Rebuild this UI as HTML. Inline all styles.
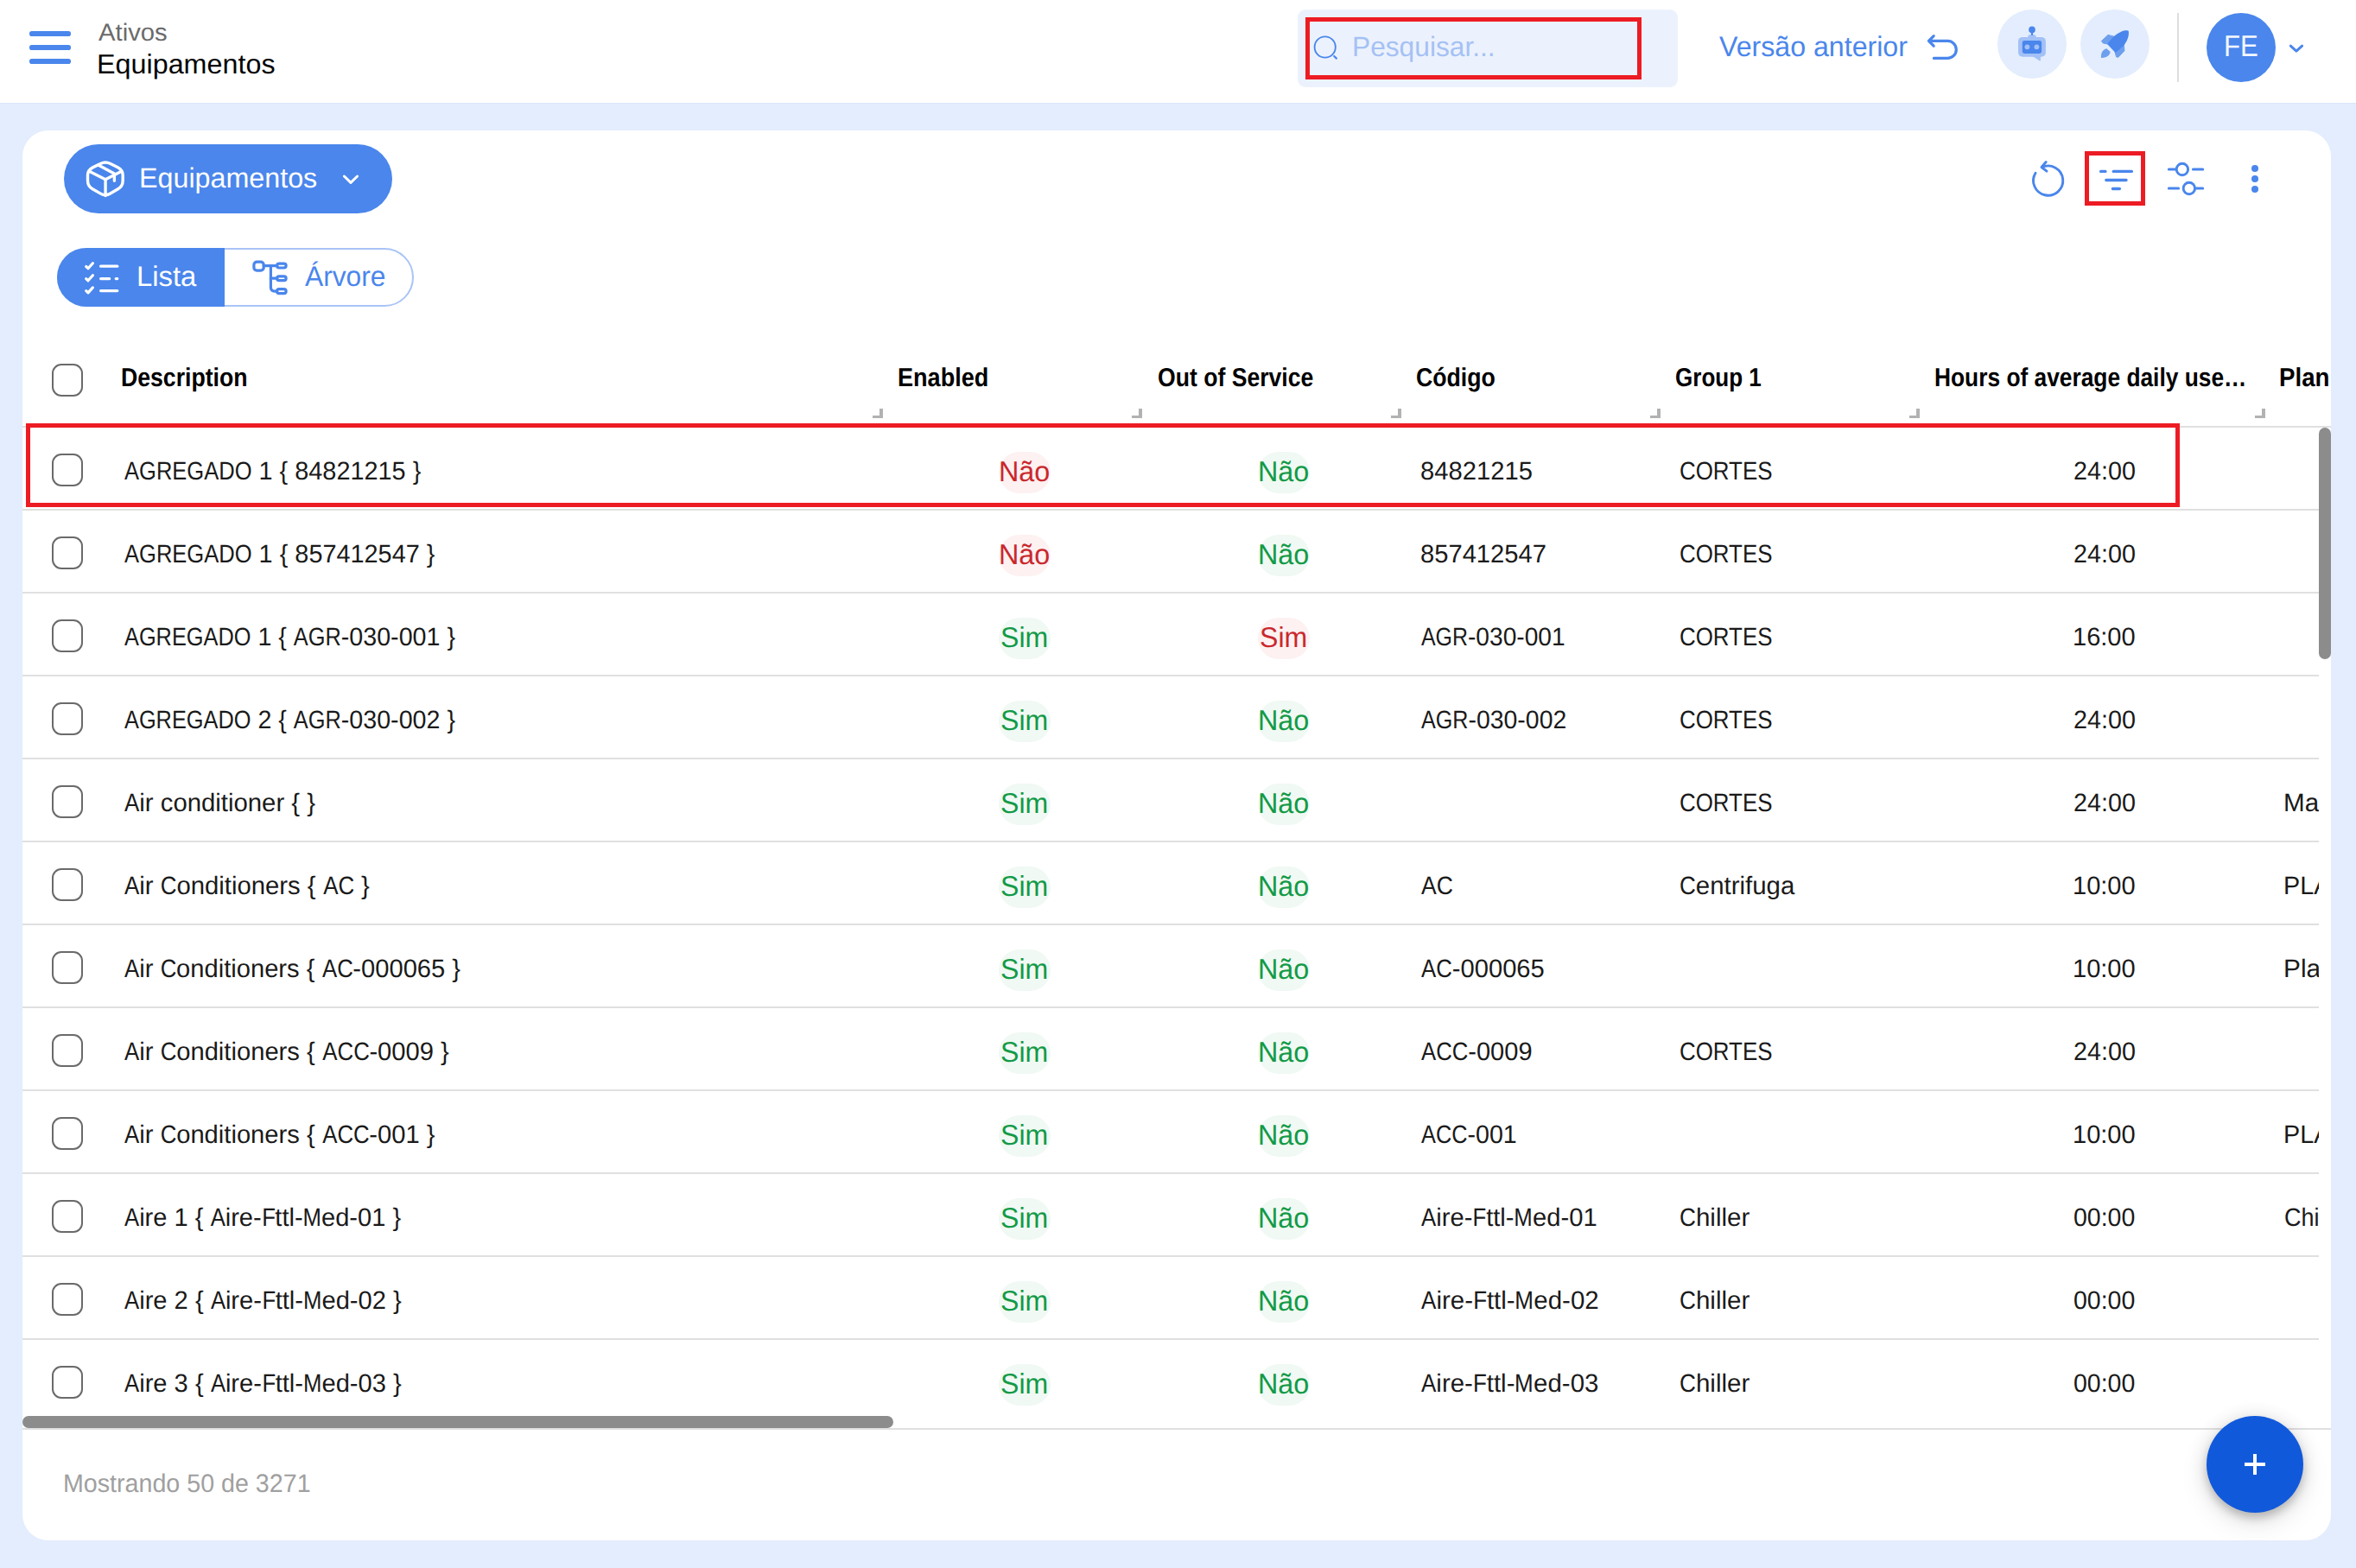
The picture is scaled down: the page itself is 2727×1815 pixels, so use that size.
<!DOCTYPE html>
<html lang="pt">
<head>
<meta charset="utf-8">
<title>Ativos - Equipamentos</title>
<style>
html,body{margin:0;padding:0}
body{width:2727px;height:1815px;overflow:hidden;position:relative;background:#e3edfd;font-family:"Liberation Sans", sans-serif;text-rendering:geometricPrecision}
.abs{position:absolute}
.t{position:absolute;white-space:pre;line-height:1;transform-origin:0 0}
.hdr{position:absolute;left:0;top:0;width:2727px;height:119px;background:#fff;box-shadow:0 1px 1px rgba(40,60,120,.03)}
.card{position:absolute;left:26px;top:151px;width:2672px;height:1632px;background:#fff;border-radius:30px}
.ln{position:absolute;height:2px;background:#e0e0e0}
.cb{position:absolute;left:60px;width:32px;height:33.5px;border:2px solid #6a6a6a;border-radius:11px;background:#fff}
.bd{position:absolute;width:60px;height:48px;border-radius:24px}
.u{display:inline-block;transform-origin:0 50%}
.rz{position:absolute;width:8px;height:8px;border-right:4px solid #b2b2b2;border-bottom:3.5px solid #b2b2b2}
.red{position:absolute;border:5px solid #ed1c24;box-sizing:border-box}
svg{position:absolute;overflow:visible}

</style>
</head>
<body>
<header>
<div class="hdr"></div>
<div class="abs" style="left:34px;top:36.45px;width:48.2px;height:5.6px;border-radius:2.8px;background:#4a86ec"></div>
<div class="abs" style="left:34px;top:52.4px;width:48.2px;height:5.6px;border-radius:2.8px;background:#4a86ec"></div>
<div class="abs" style="left:34px;top:68.35px;width:48.2px;height:5.6px;border-radius:2.8px;background:#4a86ec"></div>
<div class="abs" style="left:1502px;top:11px;width:440px;height:90px;border-radius:9px;background:#ecf2fd"></div>
<svg style="left:1516px;top:36px" width="40" height="40" viewBox="0 0 40 40"><circle cx="17.7" cy="18.5" r="12.1" fill="none" stroke="#4a86ec" stroke-width="1.9"/><path d="M28.2 29 L30.9 31.6" stroke="#4a86ec" stroke-width="2.2" stroke-linecap="round"/></svg>
<div class="red" style="left:1511px;top:20px;width:389px;height:72px"></div>
<svg style="left:2228px;top:36px" width="44" height="40" viewBox="0 0 44 40"><path d="M10.2 5.6 L4.4 11.4 L10.2 17.2 M4.6 11.4 H26.3 A10 10 0 0 1 26.3 31.4 H10.4" fill="none" stroke="#4a86ec" stroke-width="3.2" stroke-linecap="round" stroke-linejoin="round"/></svg>
<div class="abs" style="left:2312px;top:11px;width:80px;height:80px;border-radius:50%;background:#e3edfd"></div>
<svg style="left:2332px;top:28px" width="40" height="46" viewBox="0 0 40 46"><rect x="4" y="14.9" width="31.9" height="22.9" rx="5" fill="#a3c1f6"/><path d="M20.5 37 L28.6 42.2 Q29.9 42.9 29.9 41.4 L29.9 37 Z" fill="#a3c1f6"/><rect x="15.4" y="12.2" width="9.2" height="5" rx="1.8" fill="#a3c1f6"/><rect x="18.9" y="6.4" width="2.2" height="6.4" fill="#4a86ec"/><circle cx="20" cy="6.4" r="3.8" fill="#4a86ec"/><rect x="8.8" y="19" width="22.3" height="15" rx="2.4" fill="#4a86ec"/><circle cx="14.4" cy="26.3" r="2.9" fill="#a3c1f6"/><circle cx="25.4" cy="26.3" r="2.9" fill="#a3c1f6"/></svg>
<div class="abs" style="left:2408px;top:11px;width:80px;height:80px;border-radius:50%;background:#e3edfd"></div>
<svg style="left:2428px;top:31px" width="40" height="40" viewBox="0 0 40 40"><path d="M12 9.4 L4.4 16.5 L6.3 19 L12 20 L19.6 11.4 Z" fill="#6e9fee" stroke="#6e9fee" stroke-width="1" stroke-linejoin="round"/><path d="M30.4 21.5 L30.9 27.8 L23.8 35.3 L21.6 34.9 L20 29 Z" fill="#6e9fee" stroke="#6e9fee" stroke-width="1" stroke-linejoin="round"/><path d="M35.4 4.6 C33 4 30 4.5 27.2 5.7 C25 6.6 23.4 7.6 21.8 8.8 C19.8 10.3 18 11.8 16.5 13.4 C14.5 15.5 12.6 17.7 11.1 19.9 L20.3 29.8 C22 28.9 23.5 27.7 24.9 26.4 C27 24.5 28.8 23 30.2 21.8 C30.8 21 31.3 20.3 31.7 19.5 C33 17.6 34 15.5 34.8 13.4 C35.5 11.6 35.9 9.8 35.9 8 C36 6.6 35.9 5.4 35.4 4.6 Z" fill="#4a86ec"/><path d="M4 35.9 C3.8 33 4.2 30.5 5.5 28.5 C6.8 26.6 8.8 25.4 10.4 25.2 L14.6 29 C14.5 31 13 33.4 10.8 34.6 C8.8 35.7 6.2 36.1 4 35.9 Z" fill="#6e9fee"/></svg>
<div class="abs" style="left:2519.5px;top:15px;width:2px;height:80px;background:#dedede"></div>
<div class="abs" style="left:2554px;top:15px;width:80px;height:80px;border-radius:50%;background:#4a86ec"></div>
<svg style="left:2646px;top:48px" width="24" height="16" viewBox="0 0 24 16"><path d="M5.3 5.2 L11.95 11.2 L18.6 5.2" fill="none" stroke="#4a86ec" stroke-width="3" stroke-linecap="round" stroke-linejoin="round"/></svg>
<span class="t" style="left:114.45px;top:23px;font-size:28.3px;color:#6b6b6b;transform:scaleX(1.0336);">Ativos</span>
<span class="t" style="left:112.03px;top:59px;font-size:31.8px;color:#050505;transform:scaleX(1.0161);">Equipamentos</span>
<span class="t" style="left:1564.98px;top:38px;font-size:32.3px;color:#a5c1f4;transform:scaleX(0.9815);">Pesquisar...</span>
<span class="t" style="left:1989.75px;top:38px;font-size:32.7px;color:#4a86ec;transform:scaleX(0.9830);">Versão anterior</span>
<span class="t" style="left:2573.93px;top:37px;font-size:34.7px;color:#f3f7ff;transform:scaleX(0.8993);">FE</span>
</header>
<main>
<div class="card"></div>
<section>
<div class="abs" style="left:74px;top:167px;width:380px;height:80px;border-radius:40px;background:#4a86ec"></div>
<svg style="left:98px;top:183px" width="48" height="48" viewBox="0 0 48 48"><g fill="none" stroke="#fff" stroke-width="3.4" stroke-linejoin="round" stroke-linecap="round"><path d="M18.27 6.41 Q24.08 3.50 29.86 6.46 L38.40 10.84 Q44.18 13.80 44.18 20.30 L44.18 25.95 Q44.18 32.45 38.59 35.77 L29.67 41.08 Q24.08 44.40 18.46 41.14 L9.12 35.71 Q3.50 32.45 3.50 25.95 L3.50 20.30 Q3.50 13.80 9.31 10.89 Z"/><path d="M5.3 15.3 L24.08 24.8 L42.7 15.3"/><path d="M24.08 24.8 V43.6"/><path d="M15.7 8.05 L34.37 18.1 V26.2"/></g></svg>
<svg style="left:394px;top:199px" width="24" height="18" viewBox="0 0 24 18"><path d="M4.4 5 L12 12.4 L19.6 5" fill="none" stroke="#fff" stroke-width="3" stroke-linecap="round" stroke-linejoin="round"/></svg>
<div class="abs" style="left:66px;top:287px;width:413px;height:67.5px;border-radius:34px;border:2px solid #a9c4f6;box-sizing:border-box;background:#fff"></div>
<div class="abs" style="left:66px;top:287px;width:194px;height:67.5px;border-radius:34px 0 0 34px;background:#4a86ec"></div>
<svg style="left:96px;top:300px" width="46" height="44" viewBox="0 0 46 44"><g fill="none" stroke="#fff" stroke-width="3.2" stroke-linecap="round" stroke-linejoin="round"><path d="M3.7 8.5 L6 10.7 L11.4 4.7"/><path d="M3.7 22.6 L6 24.8 L11.4 18.8"/><path d="M3.7 36.7 L6 38.9 L11.4 32.9"/><path d="M20.6 8.2 H39.8"/><path d="M20.6 22.6 H30.7 M38.2 22.6 H39.8"/><path d="M20.6 36.6 H39.8"/></g></svg>
<svg style="left:290px;top:299px" width="46" height="46" viewBox="0 0 46 46"><g fill="none" stroke="#4a86ec" stroke-width="3.2" stroke-linejoin="round" stroke-linecap="round"><rect x="3.9" y="4.2" width="11.3" height="10" rx="3.4"/><rect x="30.6" y="6.1" width="10.5" height="4.9" rx="2.4"/><rect x="30.6" y="20.8" width="10.5" height="4.9" rx="2.4"/><rect x="30.6" y="35.7" width="10.5" height="4.9" rx="2.4"/><path d="M15.2 8.6 H30.6"/><path d="M23.4 8.6 V33.6 Q23.4 38.1 27.9 38.1 H30.6"/><path d="M23.4 23.2 H30.6"/></g></svg>
<svg style="left:2346px;top:180px" width="50" height="52" viewBox="0 0 50 52"><g fill="none" stroke="#4a86ec" stroke-width="2.9" stroke-linecap="round" stroke-linejoin="round"><path d="M17.4 13.6 A17.1 17.1 0 1 1 10.05 20.2"/><path d="M22.2 7.5 L17 13.5 L23 18.2"/></g></svg>
<svg style="left:2424px;top:188px" width="50" height="40" viewBox="0 0 50 40"><g fill="none" stroke="#4a86ec" stroke-width="3.3" stroke-linecap="round"><path d="M7.6 10.4 H13 M22.2 10.4 H43.4"/><path d="M13.8 20.5 H37"/><path d="M21.4 30.5 H29.4"/></g></svg>
<div class="red" style="left:2413px;top:175px;width:70px;height:63px"></div>
<svg style="left:2504px;top:182px" width="52" height="48" viewBox="0 0 52 48"><g fill="none" stroke="#4a86ec" stroke-width="3" stroke-linecap="round"><path d="M6.3 14 H14.8 M34.4 14 H45.7"/><circle cx="21.9" cy="14" r="6.7" stroke-width="2.9"/><path d="M6.3 36 H17.6 M37 36 H45.7"/><circle cx="29.85" cy="36" r="6.7" stroke-width="2.9"/></g></svg>
<div class="abs" style="left:2606px;top:191px;width:8px;height:8px;border-radius:50%;background:#4a86ec"></div>
<div class="abs" style="left:2606px;top:203px;width:8px;height:8px;border-radius:50%;background:#4a86ec"></div>
<div class="abs" style="left:2606px;top:215px;width:8px;height:8px;border-radius:50%;background:#4a86ec"></div>
<span class="t" style="left:160.84px;top:190px;font-size:32.4px;color:#fff;transform:scaleX(0.9958);">Equipamentos</span>
<span class="t" style="left:158.09px;top:304px;font-size:32.8px;color:#fff;transform:scaleX(1.0013);">Lista</span>
<span class="t" style="left:352.84px;top:304px;font-size:32.8px;color:#4a86ec;transform:scaleX(0.9678);">Árvore</span>
</section>
<div role="table">
<div role="row">
<div class="cb" style="top:421px"></div>
<div class="rz" style="left:1010px;top:473.3px"></div>
<div class="rz" style="left:1310px;top:473.3px"></div>
<div class="rz" style="left:1610px;top:473.3px"></div>
<div class="rz" style="left:1910px;top:473.3px"></div>
<div class="rz" style="left:2210px;top:473.3px"></div>
<div class="rz" style="left:2610px;top:473.3px"></div>
<div class="ln" style="left:26px;top:493px;width:2672px"></div>
<span class="t" style="left:139.74px;top:423px;font-size:30.2px;color:#000;font-weight:bold;transform:scaleX(0.8825);">Description</span>
<span class="t" style="left:1038.81px;top:423px;font-size:30.2px;color:#000;font-weight:bold;transform:scaleX(0.8967);">Enabled</span>
<span class="t" style="left:1339.7px;top:423px;font-size:30.2px;color:#000;font-weight:bold;transform:scaleX(0.8812);">Out of Service</span>
<span class="t" style="left:1639.4px;top:423px;font-size:30.2px;color:#000;font-weight:bold;transform:scaleX(0.8835);">Código</span>
<span class="t" style="left:1939.43px;top:423px;font-size:30.2px;color:#000;font-weight:bold;transform:scaleX(0.8624);">Group 1</span>
<span class="t" style="left:2238.76px;top:423px;font-size:30.2px;color:#000;font-weight:bold;transform:scaleX(0.8721);">Hours of average daily use…</span>
<span class="t" style="left:2638.17px;top:423px;font-size:30.2px;color:#000;font-weight:bold;transform:scaleX(0.9167);">Plan</span>
</div>
<div role="row">
<div class="cb" style="top:525px"></div>
<div class="ln" style="left:26px;top:589px;width:2658px"></div>
<div class="bd" style="left:1156px;top:523px;background:#fdf1f1"></div>
<div class="bd" style="left:1456px;top:523px;background:#f0f9f3"></div>
<span class="t" style="left:144.27px;top:531px;font-size:29.4px;color:#1a1a1a;transform:scaleX(0.9815);"><span class="u" style="transform:scaleX(0.885);margin-right:-19.53px">AGREGADO</span> 1 { 84821215 }</span>
<span class="t" style="left:1156.02px;top:529px;font-size:33px;color:#c9282d;transform:scaleX(0.9793);">Não</span>
<span class="t" style="left:1456.02px;top:529px;font-size:33px;color:#139a47;transform:scaleX(0.9793);">Não</span>
<span class="t" style="left:1643.83px;top:531px;font-size:29.4px;color:#1a1a1a;transform:scaleX(0.9933);">84821215</span>
<span class="t" style="left:1943.59px;top:531px;font-size:29.4px;color:#1a1a1a;transform:scaleX(0.9956);"><span class="u" style="transform:scaleX(0.885);margin-right:-14.02px">CORTES</span></span>
<span class="t" style="left:2399.96px;top:531px;font-size:29.4px;color:#1a1a1a;transform:scaleX(0.9780);">24:00</span>
</div>
<div class="red" style="left:30px;top:490px;width:2493px;height:97px"></div>
<div role="row">
<div class="cb" style="top:621px"></div>
<div class="ln" style="left:26px;top:685px;width:2658px"></div>
<div class="bd" style="left:1156px;top:619px;background:#fdf1f1"></div>
<div class="bd" style="left:1456px;top:619px;background:#f0f9f3"></div>
<span class="t" style="left:144.27px;top:627px;font-size:29.4px;color:#1a1a1a;transform:scaleX(0.9818);"><span class="u" style="transform:scaleX(0.885);margin-right:-19.53px">AGREGADO</span> 1 { 857412547 }</span>
<span class="t" style="left:1156.02px;top:625px;font-size:33px;color:#c9282d;transform:scaleX(0.9793);">Não</span>
<span class="t" style="left:1456.02px;top:625px;font-size:33px;color:#139a47;transform:scaleX(0.9793);">Não</span>
<span class="t" style="left:1643.83px;top:627px;font-size:29.4px;color:#1a1a1a;transform:scaleX(0.9917);">857412547</span>
<span class="t" style="left:1943.59px;top:627px;font-size:29.4px;color:#1a1a1a;transform:scaleX(0.9956);"><span class="u" style="transform:scaleX(0.885);margin-right:-14.02px">CORTES</span></span>
<span class="t" style="left:2399.96px;top:627px;font-size:29.4px;color:#1a1a1a;transform:scaleX(0.9780);">24:00</span>
</div>
<div role="row">
<div class="cb" style="top:717px"></div>
<div class="ln" style="left:26px;top:781px;width:2658px"></div>
<div class="bd" style="left:1156px;top:715px;background:#f0f9f3"></div>
<div class="bd" style="left:1456px;top:715px;background:#fdf1f1"></div>
<span class="t" style="left:144.27px;top:723px;font-size:29.4px;color:#1a1a1a;transform:scaleX(0.9744);"><span class="u" style="transform:scaleX(0.885);margin-right:-19.53px">AGREGADO</span> 1 { <span class="u" style="transform:scaleX(0.885);margin-right:-7.33px">AGR</span>-030-001 }</span>
<span class="t" style="left:1158.04px;top:721px;font-size:33px;color:#139a47;transform:scaleX(0.9717);">Sim</span>
<span class="t" style="left:1458.04px;top:721px;font-size:33px;color:#c9282d;transform:scaleX(0.9717);">Sim</span>
<span class="t" style="left:1644.88px;top:723px;font-size:29.4px;color:#1a1a1a;transform:scaleX(0.9578);"><span class="u" style="transform:scaleX(0.885);margin-right:-7.33px">AGR</span>-030-001</span>
<span class="t" style="left:1943.59px;top:723px;font-size:29.4px;color:#1a1a1a;transform:scaleX(0.9956);"><span class="u" style="transform:scaleX(0.885);margin-right:-14.02px">CORTES</span></span>
<span class="t" style="left:2399.22px;top:723px;font-size:29.4px;color:#1a1a1a;transform:scaleX(0.9882);">16:00</span>
</div>
<div role="row">
<div class="cb" style="top:813px"></div>
<div class="ln" style="left:26px;top:877px;width:2658px"></div>
<div class="bd" style="left:1156px;top:811px;background:#f0f9f3"></div>
<div class="bd" style="left:1456px;top:811px;background:#f0f9f3"></div>
<span class="t" style="left:144.27px;top:819px;font-size:29.4px;color:#1a1a1a;transform:scaleX(0.9744);"><span class="u" style="transform:scaleX(0.885);margin-right:-19.53px">AGREGADO</span> 2 { <span class="u" style="transform:scaleX(0.885);margin-right:-7.33px">AGR</span>-030-002 }</span>
<span class="t" style="left:1158.04px;top:817px;font-size:33px;color:#139a47;transform:scaleX(0.9717);">Sim</span>
<span class="t" style="left:1456.02px;top:817px;font-size:33px;color:#139a47;transform:scaleX(0.9793);">Não</span>
<span class="t" style="left:1644.87px;top:819px;font-size:29.4px;color:#1a1a1a;transform:scaleX(0.9667);"><span class="u" style="transform:scaleX(0.885);margin-right:-7.33px">AGR</span>-030-002</span>
<span class="t" style="left:1943.59px;top:819px;font-size:29.4px;color:#1a1a1a;transform:scaleX(0.9956);"><span class="u" style="transform:scaleX(0.885);margin-right:-14.02px">CORTES</span></span>
<span class="t" style="left:2399.96px;top:819px;font-size:29.4px;color:#1a1a1a;transform:scaleX(0.9780);">24:00</span>
</div>
<div role="row">
<div class="cb" style="top:909px"></div>
<div class="ln" style="left:26px;top:973px;width:2658px"></div>
<div class="bd" style="left:1156px;top:907px;background:#f0f9f3"></div>
<div class="bd" style="left:1456px;top:907px;background:#f0f9f3"></div>
<span class="t" style="left:144.27px;top:915px;font-size:29.4px;color:#1a1a1a;transform:scaleX(0.9977);"><span class="u" style="transform:scaleX(0.885);margin-right:-2.26px">A</span>ir conditioner { }</span>
<span class="t" style="left:1158.04px;top:913px;font-size:33px;color:#139a47;transform:scaleX(0.9717);">Sim</span>
<span class="t" style="left:1456.02px;top:913px;font-size:33px;color:#139a47;transform:scaleX(0.9793);">Não</span>
<span class="t" style="left:1943.59px;top:915px;font-size:29.4px;color:#1a1a1a;transform:scaleX(0.9956);"><span class="u" style="transform:scaleX(0.885);margin-right:-14.02px">CORTES</span></span>
<span class="t" style="left:2399.96px;top:915px;font-size:29.4px;color:#1a1a1a;transform:scaleX(0.9780);">24:00</span>
<div class="abs" style="left:2642.99px;top:915px;width:41.01px;height:35px;overflow:hidden"><span class="t" style="left:0;top:0;font-size:29.4px;color:#1a1a1a;transform:scaleX(1.0076);">Ma</span></div>
</div>
<div role="row">
<div class="cb" style="top:1005px"></div>
<div class="ln" style="left:26px;top:1069px;width:2658px"></div>
<div class="bd" style="left:1156px;top:1003px;background:#f0f9f3"></div>
<div class="bd" style="left:1456px;top:1003px;background:#f0f9f3"></div>
<span class="t" style="left:144.27px;top:1011px;font-size:29.4px;color:#1a1a1a;transform:scaleX(0.9966);"><span class="u" style="transform:scaleX(0.885);margin-right:-2.26px">A</span>ir <span class="u" style="transform:scaleX(0.885);margin-right:-2.44px">C</span>onditioners { <span class="u" style="transform:scaleX(0.885);margin-right:-4.70px">AC</span> }</span>
<span class="t" style="left:1158.04px;top:1009px;font-size:33px;color:#139a47;transform:scaleX(0.9717);">Sim</span>
<span class="t" style="left:1456.02px;top:1009px;font-size:33px;color:#139a47;transform:scaleX(0.9793);">Não</span>
<span class="t" style="left:1644.87px;top:1011px;font-size:29.4px;color:#1a1a1a;transform:scaleX(1.0209);"><span class="u" style="transform:scaleX(0.885);margin-right:-4.70px">AC</span></span>
<span class="t" style="left:1943.58px;top:1011px;font-size:29.4px;color:#1a1a1a;transform:scaleX(1.0008);"><span class="u" style="transform:scaleX(0.885);margin-right:-2.44px">C</span>entrifuga</span>
<span class="t" style="left:2399.22px;top:1011px;font-size:29.4px;color:#1a1a1a;transform:scaleX(0.9882);">10:00</span>
<div class="abs" style="left:2643.05px;top:1011px;width:40.95px;height:35px;overflow:hidden"><span class="t" style="left:0;top:0;font-size:29.4px;color:#1a1a1a;transform:scaleX(0.9799);">PLA</span></div>
</div>
<div role="row">
<div class="cb" style="top:1101px"></div>
<div class="ln" style="left:26px;top:1165px;width:2658px"></div>
<div class="bd" style="left:1156px;top:1099px;background:#f0f9f3"></div>
<div class="bd" style="left:1456px;top:1099px;background:#f0f9f3"></div>
<span class="t" style="left:144.27px;top:1107px;font-size:29.4px;color:#1a1a1a;transform:scaleX(0.9911);"><span class="u" style="transform:scaleX(0.885);margin-right:-2.26px">A</span>ir <span class="u" style="transform:scaleX(0.885);margin-right:-2.44px">C</span>onditioners { <span class="u" style="transform:scaleX(0.885);margin-right:-4.70px">AC</span>-000065 }</span>
<span class="t" style="left:1158.04px;top:1105px;font-size:33px;color:#139a47;transform:scaleX(0.9717);">Sim</span>
<span class="t" style="left:1456.02px;top:1105px;font-size:33px;color:#139a47;transform:scaleX(0.9793);">Não</span>
<span class="t" style="left:1644.87px;top:1107px;font-size:29.4px;color:#1a1a1a;transform:scaleX(0.9911);"><span class="u" style="transform:scaleX(0.885);margin-right:-4.70px">AC</span>-000065</span>
<span class="t" style="left:2399.22px;top:1107px;font-size:29.4px;color:#1a1a1a;transform:scaleX(0.9882);">10:00</span>
<div class="abs" style="left:2642.97px;top:1107px;width:41.03px;height:35px;overflow:hidden"><span class="t" style="left:0;top:0;font-size:29.4px;color:#1a1a1a;transform:scaleX(1.0160);">Pla</span></div>
</div>
<div role="row">
<div class="cb" style="top:1197px"></div>
<div class="ln" style="left:26px;top:1261px;width:2658px"></div>
<div class="bd" style="left:1156px;top:1195px;background:#f0f9f3"></div>
<div class="bd" style="left:1456px;top:1195px;background:#f0f9f3"></div>
<span class="t" style="left:144.27px;top:1203px;font-size:29.4px;color:#1a1a1a;transform:scaleX(0.9926);"><span class="u" style="transform:scaleX(0.885);margin-right:-2.26px">A</span>ir <span class="u" style="transform:scaleX(0.885);margin-right:-2.44px">C</span>onditioners { <span class="u" style="transform:scaleX(0.885);margin-right:-7.14px">ACC</span>-0009 }</span>
<span class="t" style="left:1158.04px;top:1201px;font-size:33px;color:#139a47;transform:scaleX(0.9717);">Sim</span>
<span class="t" style="left:1456.02px;top:1201px;font-size:33px;color:#139a47;transform:scaleX(0.9793);">Não</span>
<span class="t" style="left:1644.87px;top:1203px;font-size:29.4px;color:#1a1a1a;transform:scaleX(0.9882);"><span class="u" style="transform:scaleX(0.885);margin-right:-7.14px">ACC</span>-0009</span>
<span class="t" style="left:1943.59px;top:1203px;font-size:29.4px;color:#1a1a1a;transform:scaleX(0.9956);"><span class="u" style="transform:scaleX(0.885);margin-right:-14.02px">CORTES</span></span>
<span class="t" style="left:2399.96px;top:1203px;font-size:29.4px;color:#1a1a1a;transform:scaleX(0.9780);">24:00</span>
</div>
<div role="row">
<div class="cb" style="top:1293px"></div>
<div class="ln" style="left:26px;top:1357px;width:2658px"></div>
<div class="bd" style="left:1156px;top:1291px;background:#f0f9f3"></div>
<div class="bd" style="left:1456px;top:1291px;background:#f0f9f3"></div>
<span class="t" style="left:144.27px;top:1299px;font-size:29.4px;color:#1a1a1a;transform:scaleX(0.9923);"><span class="u" style="transform:scaleX(0.885);margin-right:-2.26px">A</span>ir <span class="u" style="transform:scaleX(0.885);margin-right:-2.44px">C</span>onditioners { <span class="u" style="transform:scaleX(0.885);margin-right:-7.14px">ACC</span>-001 }</span>
<span class="t" style="left:1158.04px;top:1297px;font-size:33px;color:#139a47;transform:scaleX(0.9717);">Sim</span>
<span class="t" style="left:1456.02px;top:1297px;font-size:33px;color:#139a47;transform:scaleX(0.9793);">Não</span>
<span class="t" style="left:1644.87px;top:1299px;font-size:29.4px;color:#1a1a1a;transform:scaleX(0.9735);"><span class="u" style="transform:scaleX(0.885);margin-right:-7.14px">ACC</span>-001</span>
<span class="t" style="left:2399.22px;top:1299px;font-size:29.4px;color:#1a1a1a;transform:scaleX(0.9882);">10:00</span>
<div class="abs" style="left:2643.05px;top:1299px;width:40.95px;height:35px;overflow:hidden"><span class="t" style="left:0;top:0;font-size:29.4px;color:#1a1a1a;transform:scaleX(0.9799);">PLA</span></div>
</div>
<div role="row">
<div class="cb" style="top:1389px"></div>
<div class="ln" style="left:26px;top:1453px;width:2658px"></div>
<div class="bd" style="left:1156px;top:1387px;background:#f0f9f3"></div>
<div class="bd" style="left:1456px;top:1387px;background:#f0f9f3"></div>
<span class="t" style="left:144.27px;top:1395px;font-size:29.4px;color:#1a1a1a;transform:scaleX(0.9884);"><span class="u" style="transform:scaleX(0.885);margin-right:-2.26px">A</span>ire 1 { <span class="u" style="transform:scaleX(0.885);margin-right:-2.26px">A</span>ire-<span class="u" style="transform:scaleX(0.885);margin-right:-2.06px">F</span>ttl-<span class="u" style="transform:scaleX(0.885);margin-right:-2.82px">M</span>ed-01 }</span>
<span class="t" style="left:1158.04px;top:1393px;font-size:33px;color:#139a47;transform:scaleX(0.9717);">Sim</span>
<span class="t" style="left:1456.02px;top:1393px;font-size:33px;color:#139a47;transform:scaleX(0.9793);">Não</span>
<span class="t" style="left:1644.87px;top:1395px;font-size:29.4px;color:#1a1a1a;transform:scaleX(0.9922);"><span class="u" style="transform:scaleX(0.885);margin-right:-2.26px">A</span>ire-<span class="u" style="transform:scaleX(0.885);margin-right:-2.06px">F</span>ttl-<span class="u" style="transform:scaleX(0.885);margin-right:-2.82px">M</span>ed-01</span>
<span class="t" style="left:1943.57px;top:1395px;font-size:29.4px;color:#1a1a1a;transform:scaleX(1.0053);"><span class="u" style="transform:scaleX(0.885);margin-right:-2.44px">C</span>hiller</span>
<span class="t" style="left:2400.29px;top:1395px;font-size:29.4px;color:#1a1a1a;transform:scaleX(0.9693);">00:00</span>
<div class="abs" style="left:2644.01px;top:1395px;width:39.99px;height:35px;overflow:hidden"><span class="t" style="left:0;top:0;font-size:29.4px;color:#1a1a1a;transform:scaleX(0.9182);">Chi</span></div>
</div>
<div role="row">
<div class="cb" style="top:1485px"></div>
<div class="ln" style="left:26px;top:1549px;width:2658px"></div>
<div class="bd" style="left:1156px;top:1483px;background:#f0f9f3"></div>
<div class="bd" style="left:1456px;top:1483px;background:#f0f9f3"></div>
<span class="t" style="left:144.27px;top:1491px;font-size:29.4px;color:#1a1a1a;transform:scaleX(0.9902);"><span class="u" style="transform:scaleX(0.885);margin-right:-2.26px">A</span>ire 2 { <span class="u" style="transform:scaleX(0.885);margin-right:-2.26px">A</span>ire-<span class="u" style="transform:scaleX(0.885);margin-right:-2.06px">F</span>ttl-<span class="u" style="transform:scaleX(0.885);margin-right:-2.82px">M</span>ed-02 }</span>
<span class="t" style="left:1158.04px;top:1489px;font-size:33px;color:#139a47;transform:scaleX(0.9717);">Sim</span>
<span class="t" style="left:1456.02px;top:1489px;font-size:33px;color:#139a47;transform:scaleX(0.9793);">Não</span>
<span class="t" style="left:1644.87px;top:1491px;font-size:29.4px;color:#1a1a1a;transform:scaleX(1.0022);"><span class="u" style="transform:scaleX(0.885);margin-right:-2.26px">A</span>ire-<span class="u" style="transform:scaleX(0.885);margin-right:-2.06px">F</span>ttl-<span class="u" style="transform:scaleX(0.885);margin-right:-2.82px">M</span>ed-02</span>
<span class="t" style="left:1943.57px;top:1491px;font-size:29.4px;color:#1a1a1a;transform:scaleX(1.0053);"><span class="u" style="transform:scaleX(0.885);margin-right:-2.44px">C</span>hiller</span>
<span class="t" style="left:2400.29px;top:1491px;font-size:29.4px;color:#1a1a1a;transform:scaleX(0.9693);">00:00</span>
</div>
<div role="row">
<div class="cb" style="top:1581px"></div>
<div class="bd" style="left:1156px;top:1579px;background:#f0f9f3"></div>
<div class="bd" style="left:1456px;top:1579px;background:#f0f9f3"></div>
<span class="t" style="left:144.27px;top:1587px;font-size:29.4px;color:#1a1a1a;transform:scaleX(0.9902);"><span class="u" style="transform:scaleX(0.885);margin-right:-2.26px">A</span>ire 3 { <span class="u" style="transform:scaleX(0.885);margin-right:-2.26px">A</span>ire-<span class="u" style="transform:scaleX(0.885);margin-right:-2.06px">F</span>ttl-<span class="u" style="transform:scaleX(0.885);margin-right:-2.82px">M</span>ed-03 }</span>
<span class="t" style="left:1158.04px;top:1585px;font-size:33px;color:#139a47;transform:scaleX(0.9717);">Sim</span>
<span class="t" style="left:1456.02px;top:1585px;font-size:33px;color:#139a47;transform:scaleX(0.9793);">Não</span>
<span class="t" style="left:1644.87px;top:1587px;font-size:29.4px;color:#1a1a1a;transform:scaleX(1.0006);"><span class="u" style="transform:scaleX(0.885);margin-right:-2.26px">A</span>ire-<span class="u" style="transform:scaleX(0.885);margin-right:-2.06px">F</span>ttl-<span class="u" style="transform:scaleX(0.885);margin-right:-2.82px">M</span>ed-03</span>
<span class="t" style="left:1943.57px;top:1587px;font-size:29.4px;color:#1a1a1a;transform:scaleX(1.0053);"><span class="u" style="transform:scaleX(0.885);margin-right:-2.44px">C</span>hiller</span>
<span class="t" style="left:2400.29px;top:1587px;font-size:29.4px;color:#1a1a1a;transform:scaleX(0.9693);">00:00</span>
</div>
</div>
<div class="abs" style="left:2684px;top:495px;width:14px;height:268px;border-radius:7px;background:#8c8c8c"></div>
<div class="ln" style="left:26px;top:1653px;width:2672px"></div>
<div class="abs" style="left:26px;top:1639px;width:1008px;height:14px;border-radius:7px;background:#8c8c8c"></div>
<footer>
<span class="t" style="left:73.36px;top:1703px;font-size:29.6px;color:#a0a0a0;transform:scaleX(0.9676);">Mostrando 50 de 3271</span>
</footer>
<div class="abs" style="left:26px;top:151px;width:2672px;height:1632px;border-radius:30px;overflow:hidden">
<div class="abs" style="left:2528px;top:1488px;width:112px;height:112px;border-radius:50%;background:#1159db;box-shadow:0 6px 10px rgba(0,0,0,.17),0 2px 22px rgba(0,0,0,.12),0 12px 32px rgba(0,0,0,.1)"></div>
<div class="abs" style="left:2571.8px;top:1541.8px;width:24.5px;height:4.4px;background:#fff"></div>
<div class="abs" style="left:2581.8px;top:1531.8px;width:4.4px;height:24.5px;background:#fff"></div>
</div>
</main>
</body>
</html>
